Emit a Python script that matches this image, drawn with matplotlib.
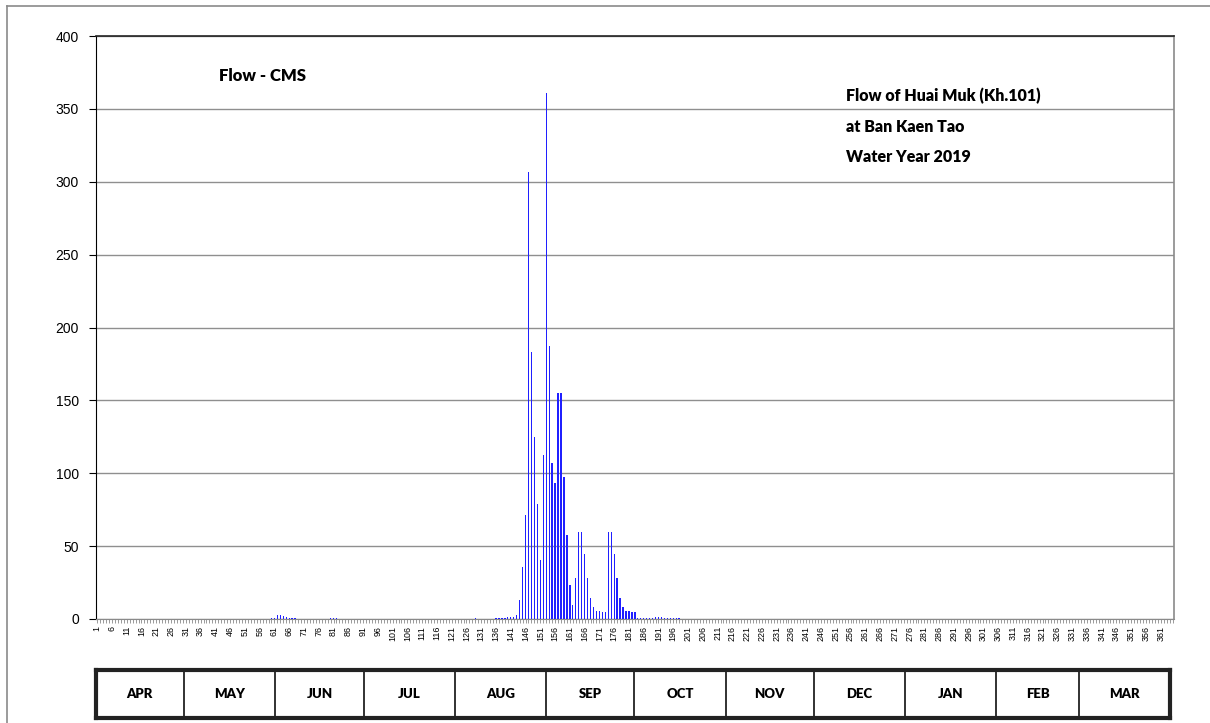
import matplotlib
matplotlib.use("Agg")
import matplotlib.pyplot as plt
from matplotlib.lines import Line2D
import numpy as np

# daily flow (CMS), water year 2019, day 1 = 1 April
apr = [0.1, 0.1, 0.1, 0.1, 0.1, 0.1, 0.1, 0.1, 0.1, 0.1,
       0.1, 0.1, 0.1, 0.1, 0.1, 0.1, 0.1, 0.1, 0.1, 0.1,
       0.1, 0.1, 0.1, 0.1, 0.1, 0.1, 0.1, 0.1, 0.1, 0.1]
may = [0.2, 0.2, 0.2, 0.2, 0.2, 0.2, 0.2, 0.2, 0.2, 0.2,
       0.2, 0.2, 0.2, 0.2, 0.2, 0.2, 0.2, 0.2, 0.2, 0.2,
       0.2, 0.2, 0.2, 0.2, 0.2, 0.2, 0.2, 0.2, 0.2, 0.4, 0.8]
jun = [2.5, 2.8, 2.0, 1.5, 1.0, 0.6, 0.4, 0.2, 0.2, 0.2,
       0.2, 0.2, 0.2, 0.2, 0.2, 0.2, 0.2, 0.2, 0.4, 0.5,
       0.4, 0.2, 0.2, 0.2, 0.2, 0.2, 0.2, 0.2, 0.2, 0.2]
jul = [0.2, 0.2, 0.2, 0.2, 0.3, 0.3, 0.3, 0.3, 0.3, 0.2,
       0.2, 0.2, 0.2, 0.2, 0.2, 0.2, 0.2, 0.2, 0.2, 0.2,
       0.2, 0.2, 0.2, 0.2, 0.2, 0.2, 0.2, 0.2, 0.2, 0.2, 0.2]
aug = [0.2, 0.2, 0.2, 0.2, 0.2, 0.2, 0.5, 0.2, 0.2, 0.2,
       0.2, 0.2, 0.2, 0.6, 0.7, 1.0, 1.0, 1.2, 1.2, 1.5,
       3.0, 13.0, 36.0, 71.5, 307.0, 183.0, 125.0, 78.6, 40.7, 112.6, 361.0]
sep = [187.0, 107.0, 93.0, 155.0, 155.0, 97.7, 57.7, 23.0, 9.7, 28.0,
       60.0, 59.8, 44.4, 28.0, 14.7, 8.0, 5.8, 5.3, 4.6, 4.6,
       60.0, 59.8, 44.4, 28.0, 14.7, 8.0, 5.8, 5.3, 4.6, 4.6]
oct_ = [0.8, 0.6, 0.5, 0.5, 0.6, 0.8, 1.2, 1.5, 1.3, 1.0,
        0.8, 0.6, 0.5, 0.4, 0.4, 0.3, 0.3, 0.3, 0.3, 0.3,
        0.3, 0.3, 0.3, 0.3, 0.3, 0.3, 0.3, 0.3, 0.3, 0.3, 0.3]
nov = [0.2, 0.2, 0.2, 0.2, 0.2, 0.2, 0.2, 0.2, 0.2, 0.2,
       0.2, 0.2, 0.2, 0.2, 0.2, 0.2, 0.2, 0.2, 0.2, 0.2,
       0.2, 0.2, 0.2, 0.2, 0.2, 0.2, 0.2, 0.2, 0.2, 0.2]
dec = [0.1, 0.1, 0.1, 0.1, 0.1, 0.1, 0.1, 0.1, 0.1, 0.1,
       0.1, 0.1, 0.1, 0.1, 0.1, 0.1, 0.1, 0.1, 0.1, 0.1,
       0.1, 0.1, 0.1, 0.1, 0.1, 0.1, 0.1, 0.1, 0.1, 0.1, 0.1]
jan = [0.1, 0.1, 0.1, 0.1, 0.1, 0.1, 0.1, 0.1, 0.1, 0.1,
       0.1, 0.1, 0.1, 0.1, 0.1, 0.1, 0.1, 0.1, 0.1, 0.1,
       0.1, 0.1, 0.1, 0.1, 0.1, 0.1, 0.1, 0.1, 0.1, 0.1, 0.1]
feb = [0.1, 0.1, 0.1, 0.1, 0.1, 0.1, 0.1, 0.1, 0.1, 0.1,
       0.1, 0.1, 0.1, 0.1, 0.1, 0.1, 0.1, 0.1, 0.1, 0.1,
       0.1, 0.1, 0.1, 0.1, 0.1, 0.1, 0.1, 0.1]
mar = [0.1, 0.1, 0.1, 0.1, 0.1, 0.1, 0.1, 0.1, 0.1, 0.1,
       0.1, 0.1, 0.1, 0.1, 0.1, 0.1, 0.1, 0.1, 0.1, 0.1,
       0.1, 0.1, 0.1, 0.1, 0.1, 0.1, 0.1, 0.1, 0.1, 0.1, 0.1]

months = ["APR", "MAY", "JUN", "JUL", "AUG", "SEP",
          "OCT", "NOV", "DEC", "JAN", "FEB", "MAR"]
month_flows = [apr, may, jun, jul, aug, sep, oct_, nov, dec, jan, feb, mar]
title_lines = ["Flow of Huai Muk (Kh.101)", "at Ban Kaen Tao", "Water Year 2019"]
ylabel_text = "Flow - CMS"

flow = np.concatenate(month_flows)
days = np.arange(1, len(flow) + 1)
month_len = [len(m) for m in month_flows]

W, H = 1210, 723
fig = plt.figure(figsize=(W / 100, H / 100), dpi=100)
bold_font = ["Lato", "DejaVu Sans"]

# main plot area
ax = fig.add_axes([95.7 / W, 1 - 619 / H, (1174 - 95.7) / W, (619 - 36) / H])
ax.bar(days, flow, width=0.45, color="#2020ff", linewidth=0, zorder=3)
ax.set_xlim(0.5, len(flow) + 0.5)
ax.set_ylim(0, 400)
ax.set_yticks(np.arange(0, 401, 50))
ax.yaxis.grid(True, color="#8f8f8f", linewidth=1.0, zorder=0)
ax.set_axisbelow(True)

ax.set_xticks(days)
ax.set_xticklabels([str(d) if (d - 1) % 5 == 0 else "" for d in days],
                   rotation=90, fontsize=6.4, family="Liberation Sans")
ax.tick_params(axis="x", length=3, width=0.6, color="#8a8a8a", pad=2)
ax.tick_params(axis="y", length=5, width=0.8, color="black", pad=7)
for lbl in ax.get_yticklabels():
    lbl.set_fontsize(10)
    lbl.set_family("Liberation Sans")

ax.spines["left"].set_color("black")
ax.spines["top"].set_color("#222222")
ax.spines["top"].set_linewidth(1.2)
ax.spines["right"].set_color("#8a8a8a")
ax.spines["right"].set_linewidth(1.2)
ax.spines["bottom"].set_color("#8a8a8a")

ax.text(0.1143, 0.9314, ylabel_text, transform=ax.transAxes, fontsize=12,
        fontweight="heavy", family=bold_font, va="center", ha="left")
for i, line in enumerate(title_lines):
    ax.text(0.6958, 0.897 - i * 0.0525, line, transform=ax.transAxes,
            fontsize=11.5, fontweight="heavy", family=bold_font,
            va="center", ha="left")

# month band below the axis
tab = fig.add_axes([95.7 / W, 1 - 718 / H, (1170 - 95.7) / W, 48 / H])
total = sum(month_len)
tab.set_xlim(0, total)
tab.set_ylim(0, 1)
edges = np.cumsum([0] + month_len)
for e in edges[1:-1]:
    tab.axvline(e, color="#222222", linewidth=1.3)
for i, name in enumerate(months):
    tab.text((edges[i] + edges[i + 1]) / 2, 0.5, name, ha="center", va="center",
             fontsize=9.5, fontweight="heavy", family=bold_font)
tab.set_xticks([])
tab.set_yticks([])
for s in tab.spines.values():
    s.set_linewidth(3)
    s.set_color("#222222")

# outer chart border (left and top edges visible)
fig.add_artist(Line2D([7 / W, 7 / W], [0, 1 - 6 / H], transform=fig.transFigure,
                      color="#8a8a8a", linewidth=1.2))
fig.add_artist(Line2D([7 / W, 1], [1 - 6 / H, 1 - 6 / H], transform=fig.transFigure,
                      color="#8a8a8a", linewidth=1.2))

fig.savefig("out.png", dpi=100)
